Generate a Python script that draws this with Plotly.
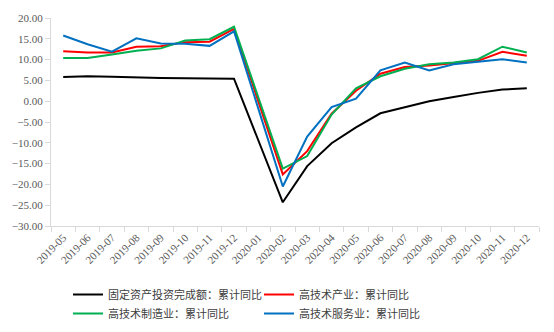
import plotly.graph_objects as go

categories = ["2019-05", "2019-06", "2019-07", "2019-08", "2019-09", "2019-10", "2019-11", "2019-12",
              "2020-01", "2020-02", "2020-03", "2020-04", "2020-05", "2020-06", "2020-07", "2020-08",
              "2020-09", "2020-10", "2020-11", "2020-12"]

fixed_asset = [5.8, 6.0, 5.9, 5.7, 5.6, 5.5, 5.4, 5.4, None, -24.3, -15.6, -10.1, -6.3, -2.9,
               -1.4, 0.0, 1.0, 2.0, 2.8, 3.1]
hitech_industry = [12.0, 11.7, 11.7, 13.1, 13.2, 14.2, 14.3, 17.4, None, -17.6, -12.0, -3.0, 2.5, 6.6,
                   8.2, 8.6, 9.1, 9.7, 11.9, 10.9]
hitech_manuf = [10.4, 10.4, 11.2, 12.1, 12.7, 14.6, 14.9, 17.9, None, -16.2, -13.2, -3.2, 3.1, 6.0,
                7.8, 8.9, 9.3, 10.1, 13.1, 11.7]
hitech_service = [15.8, 13.7, 11.9, 15.1, 13.9, 13.8, 13.3, 16.8, None, -20.5, -8.5, -1.4, 0.6, 7.4,
                  9.3, 7.4, 8.9, 9.5, 10.1, 9.3]

names = ["固定资产投资完成额：累计同比", "高技术产业：累计同比", "高技术制造业：累计同比", "高技术服务业：累计同比"]
colors = ["#000000", "#ff0000", "#00b050", "#0070c0"]
series = [fixed_asset, hitech_industry, hitech_manuf, hitech_service]

y_ticks = [20, 15, 10, 5, 0, -5, -10, -15, -20, -25, -30]

fig = go.Figure()
for name, vals, col in zip(names, series, colors):
    fig.add_trace(go.Scatter(x=categories, y=vals, name=name, mode="lines",
                             line=dict(color=col, width=2), connectgaps=True))

fig.update_layout(
    width=554, height=332,
    margin=dict(l=49, r=15, t=15, b=106),
    plot_bgcolor="white", paper_bgcolor="white",
    font=dict(family="Liberation Serif, Noto Sans CJK SC", size=11, color="#595959"),
    showlegend=True,
    legend=dict(orientation="h", xref="container", yref="container", x=68/554, y=1-280/332,
                xanchor="left", yanchor="top", entrywidth=146, entrywidthmode="pixels",
                font=dict(family="Noto Sans CJK SC", size=11, color="#404040"),
                itemwidth=30, tracegroupgap=0, traceorder="normal"),
)
fig.update_xaxes(type="category", tickson="boundaries", ticks="outside", ticklen=5,
                 tickcolor="#d9d9d9", showline=True, linecolor="#d9d9d9", linewidth=1,
                 showgrid=False, tickangle=-45,
                 tickfont=dict(family="Liberation Serif", size=11, color="#595959"),
                 range=[-0.5, len(categories) - 0.5])
fig.update_yaxes(range=[-30, 20], tickvals=y_ticks, tickformat=".2f", ticks="outside", ticklen=5,
                 tickcolor="#d9d9d9", showline=True, linecolor="#d9d9d9", linewidth=1,
                 showgrid=False, zeroline=False,
                 tickfont=dict(family="Liberation Serif", size=11, color="#595959"))

fig.write_html("out.html")
